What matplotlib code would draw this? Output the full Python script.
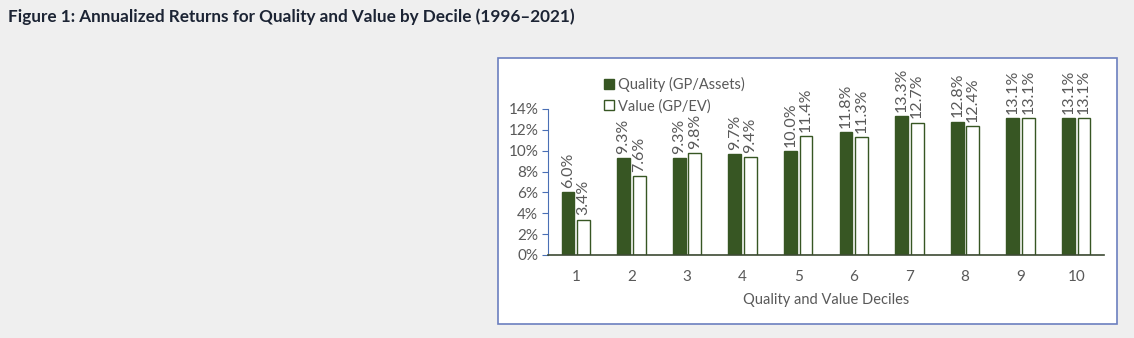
import numpy as np
import matplotlib
matplotlib.use('Agg')
import matplotlib.pyplot as plt
from matplotlib.patches import Rectangle

deciles = ['1', '2', '3', '4', '5', '6', '7', '8', '9', '10']
quality = [6.0, 9.3, 9.3, 9.7, 10.0, 11.8, 13.3, 12.8, 13.1, 13.1]
value = [3.4, 7.6, 9.8, 9.4, 11.4, 11.3, 12.7, 12.4, 13.1, 13.1]
yticks = [0, 2, 4, 6, 8, 10, 12, 14]

GREEN = '#375623'
GRAY = '#595959'

plt.rcParams['font.family'] = ['Lato', 'DejaVu Sans']

fig = plt.figure(figsize=(11.34, 3.38), dpi=100)
fig.patch.set_facecolor('#efefef')

# title
fig.text(8 / 1134, 1 - 17 / 338, 'Figure 1: Annualized Returns for Quality and Value by Decile (1996\u20132021)',
         fontsize=12.3, fontweight='bold', color='#1c2434', va='center', ha='left')

# white chart box (behind the axes)
box = Rectangle((498 / 1134, 1 - 324 / 338), (1117 - 498) / 1134, (324 - 58) / 338,
                transform=fig.transFigure, facecolor='white', edgecolor='#6b7fbf',
                linewidth=1.2, zorder=-1)
fig.add_artist(box)

ax = fig.add_axes([548 / 1134, 1 - 255 / 338, (1104 - 548) / 1134, (255 - 109) / 338])
ax.set_facecolor('none')

x = np.arange(len(deciles))
w = 0.23
off = 0.14
b1 = ax.bar(x - off, quality, w, color=GREEN, edgecolor=GREEN, linewidth=1, label='Quality (GP/Assets)')
b2 = ax.bar(x + off, value, w, color='white', edgecolor=GREEN, linewidth=1, label='Value (GP/EV)')

for bars, vals in [(b1, quality), (b2, value)]:
    for b, v in zip(bars, vals):
        ax.annotate('{:.1f}%'.format(v), (b.get_x() + b.get_width() / 2, v),
                    xytext=(0, 3), textcoords='offset points', rotation=90,
                    ha='center', va='bottom', fontsize=11.5, color=GRAY, annotation_clip=False)

ax.set_xlim(-0.5, len(deciles) - 0.5)
ax.set_ylim(0, 14)
ax.set_yticks(yticks)
ax.set_yticklabels(['{}%'.format(t) for t in yticks], fontsize=11, color=GRAY)
ax.set_xticks(x)
ax.set_xticklabels(deciles, fontsize=11, color=GRAY)
ax.tick_params(axis='x', length=0, pad=11)
ax.tick_params(axis='y', length=4, color='#4a6fb5', pad=3)
ax.set_xlabel('Quality and Value Deciles', fontsize=10.5, color=GRAY, labelpad=6)

for s in ['top', 'right']:
    ax.spines[s].set_visible(False)
ax.spines['left'].set_color('#4a6fb5')
ax.spines['bottom'].set_color('#3d4a33')
ax.spines['bottom'].set_linewidth(1.2)

leg = ax.legend(loc='lower left', bbox_to_anchor=(0.09, 0.93), frameon=False, fontsize=10.5,
                handlelength=0.7, handleheight=0.7, handletextpad=0.3, labelspacing=0.5,
                borderaxespad=0)
for t in leg.get_texts():
    t.set_color(GRAY)

fig.savefig('out.png', dpi=100, facecolor=fig.get_facecolor())
